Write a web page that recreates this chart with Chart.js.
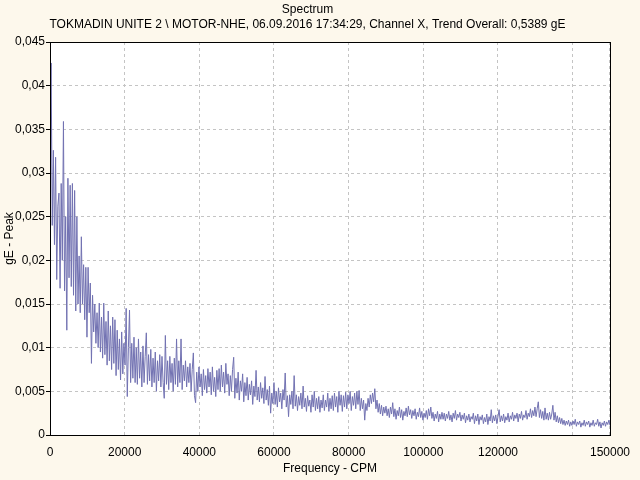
<!DOCTYPE html>
<html>
<head>
<meta charset="utf-8">
<script src="https://cdn.jsdelivr.net/npm/chart.js@4/dist/chart.umd.min.js"></script>
<style>
  body { margin: 0; background: #fdf8ec; }
  #wrap { width: 640px; height: 480px; }
</style>
</head>
<body>
<div id="wrap"><canvas id="spectrum" width="640" height="480"></canvas></div>
<script>
// spectrum lines, one every 300 CPM, amplitudes in gE
const cpmStep = 300;

// 0 - 14700 CPM
const amp000k = [0.0330, 0.0426, 0.0240, 0.0326, 0.0218, 0.0318, 0.0178, 0.0262, 0.0277, 0.0168,
  0.0288, 0.0200, 0.0359, 0.0165, 0.0250, 0.0120, 0.0294, 0.0180, 0.0286, 0.0170,
  0.0288, 0.0160, 0.0280, 0.0142, 0.0250, 0.0150, 0.0205, 0.0140, 0.0227, 0.0150,
  0.0195, 0.0132, 0.0192, 0.0112, 0.0192, 0.0140, 0.0174, 0.0082, 0.0160, 0.0118,
  0.0150, 0.0105, 0.0140, 0.0100, 0.0151, 0.0095, 0.0135, 0.0088, 0.0151, 0.0092];
// 15000 - 29700 CPM
const amp015k = [0.0130, 0.0080, 0.0142, 0.0085, 0.0125, 0.0075, 0.0135, 0.0082, 0.0132, 0.0068,
  0.0120, 0.0075, 0.0110, 0.0063, 0.0118, 0.0070, 0.0105, 0.0080, 0.0145, 0.0044,
  0.0100, 0.0143, 0.0060, 0.0105, 0.0065, 0.0112, 0.0060, 0.0100, 0.0058, 0.0110,
  0.0065, 0.0095, 0.0055, 0.0102, 0.0060, 0.0090, 0.0117, 0.0058, 0.0092, 0.0062,
  0.0098, 0.0055, 0.0088, 0.0060, 0.0095, 0.0050, 0.0085, 0.0062, 0.0092, 0.0055];
// 30000 - 44700 CPM
const amp030k = [0.0090, 0.0060, 0.0042, 0.0114, 0.0058, 0.0085, 0.0052, 0.0090, 0.0060, 0.0082,
  0.0050, 0.0088, 0.0058, 0.0110, 0.0055, 0.0085, 0.0060, 0.0110, 0.0052, 0.0080,
  0.0062, 0.0085, 0.0055, 0.0078, 0.0060, 0.0082, 0.0050, 0.0075, 0.0094, 0.0045,
  0.0037, 0.0072, 0.0050, 0.0078, 0.0055, 0.0070, 0.0045, 0.0075, 0.0052, 0.0068,
  0.0048, 0.0076, 0.0055, 0.0072, 0.0046, 0.0078, 0.0050, 0.0066, 0.0044, 0.0074];
// 45000 - 59700 CPM
const amp045k = [0.0052, 0.0076, 0.0050, 0.0080, 0.0055, 0.0072, 0.0048, 0.0082, 0.0058, 0.0070,
  0.0045, 0.0068, 0.0050, 0.0075, 0.0089, 0.0042, 0.0065, 0.0048, 0.0072, 0.0040,
  0.0062, 0.0050, 0.0070, 0.0038, 0.0060, 0.0045, 0.0066, 0.0040, 0.0058, 0.0046,
  0.0062, 0.0035, 0.0056, 0.0044, 0.0074, 0.0040, 0.0055, 0.0038, 0.0060, 0.0042,
  0.0054, 0.0036, 0.0067, 0.0040, 0.0052, 0.0034, 0.0056, 0.0025, 0.0048, 0.0036];
// 60000 - 74700 CPM
const amp060k = [0.0060, 0.0035, 0.0050, 0.0032, 0.0054, 0.0038, 0.0048, 0.0030, 0.0052, 0.0040,
  0.0071, 0.0032, 0.0045, 0.0021, 0.0046, 0.0035, 0.0050, 0.0030, 0.0068, 0.0033,
  0.0046, 0.0028, 0.0044, 0.0034, 0.0048, 0.0030, 0.0056, 0.0032, 0.0042, 0.0027,
  0.0045, 0.0033, 0.0040, 0.0026, 0.0046, 0.0032, 0.0050, 0.0028, 0.0042, 0.0030,
  0.0044, 0.0026, 0.0040, 0.0031, 0.0046, 0.0028, 0.0040, 0.0032, 0.0048, 0.0027];
// 75000 - 89700 CPM
const amp075k = [0.0042, 0.0030, 0.0045, 0.0028, 0.0048, 0.0032, 0.0044, 0.0026, 0.0050, 0.0034,
  0.0046, 0.0027, 0.0045, 0.0032, 0.0049, 0.0030, 0.0046, 0.0036, 0.0050, 0.0028,
  0.0044, 0.0034, 0.0048, 0.0030, 0.0050, 0.0035, 0.0051, 0.0028, 0.0042, 0.0030,
  0.0040, 0.0017, 0.0036, 0.0028, 0.0042, 0.0032, 0.0046, 0.0036, 0.0048, 0.0038,
  0.0053, 0.0030, 0.0040, 0.0026, 0.0036, 0.0024, 0.0034, 0.0022, 0.0032, 0.0025];
// 90000 - 104700 CPM
const amp090k = [0.0033, 0.0022, 0.0030, 0.0020, 0.0032, 0.0024, 0.0037, 0.0021, 0.0030, 0.0018,
  0.0028, 0.0022, 0.0032, 0.0020, 0.0029, 0.0017, 0.0027, 0.0022, 0.0031, 0.0021,
  0.0033, 0.0023, 0.0029, 0.0019, 0.0028, 0.0022, 0.0030, 0.0018, 0.0026, 0.0021,
  0.0031, 0.0020, 0.0027, 0.0017, 0.0025, 0.0020, 0.0028, 0.0018, 0.0030, 0.0022,
  0.0032, 0.0019, 0.0026, 0.0016, 0.0024, 0.0019, 0.0027, 0.0015, 0.0024, 0.0018];
// 105000 - 119700 CPM
const amp105k = [0.0026, 0.0018, 0.0025, 0.0016, 0.0024, 0.0019, 0.0027, 0.0017, 0.0023, 0.0015,
  0.0025, 0.0019, 0.0028, 0.0017, 0.0024, 0.0020, 0.0026, 0.0016, 0.0023, 0.0018,
  0.0025, 0.0014, 0.0022, 0.0017, 0.0024, 0.0015, 0.0021, 0.0018, 0.0025, 0.0013,
  0.0022, 0.0016, 0.0024, 0.0012, 0.0021, 0.0017, 0.0023, 0.0013, 0.0020, 0.0015,
  0.0024, 0.0012, 0.0021, 0.0016, 0.0029, 0.0014, 0.0022, 0.0016, 0.0023, 0.0013];
// 120000 - 134700 CPM
const amp120k = [0.0021, 0.0029, 0.0015, 0.0022, 0.0016, 0.0024, 0.0014, 0.0021, 0.0017, 0.0025,
  0.0015, 0.0022, 0.0018, 0.0026, 0.0016, 0.0023, 0.0019, 0.0025, 0.0015, 0.0024,
  0.0019, 0.0027, 0.0017, 0.0023, 0.0020, 0.0028, 0.0018, 0.0025, 0.0021, 0.0030,
  0.0020, 0.0028, 0.0022, 0.0032, 0.0021, 0.0030, 0.0038, 0.0020, 0.0029, 0.0019,
  0.0027, 0.0017, 0.0031, 0.0018, 0.0025, 0.0017, 0.0026, 0.0018, 0.0024, 0.0034];
// 135000 - 150000 CPM
const amp135k = [0.0017, 0.0026, 0.0015, 0.0022, 0.0014, 0.0020, 0.0013, 0.0019, 0.0012, 0.0017,
  0.0011, 0.0016, 0.0012, 0.0017, 0.0010, 0.0015, 0.0011, 0.0016, 0.0012, 0.0018,
  0.0010, 0.0015, 0.0012, 0.0016, 0.0009, 0.0014, 0.0011, 0.0017, 0.0010, 0.0015,
  0.0012, 0.0016, 0.0009, 0.0014, 0.0011, 0.0017, 0.0010, 0.0014, 0.0012, 0.0018,
  0.0010, 0.0015, 0.0008, 0.0014, 0.0011, 0.0016, 0.0010, 0.0015, 0.0012, 0.0017, 0.0011];

const xTickValues = [0, 20000, 40000, 60000, 80000, 100000, 120000, 140000, 150000];
const xTickLabels = ["0", "20000", "40000", "60000", "80000", "100000", "120000", "", "150000"];
const yTickValues = [0, 0.005, 0.01, 0.015, 0.02, 0.025, 0.03, 0.035, 0.04, 0.045];
const yTickLabels = ["0", "0,005", "0,01", "0,015", "0,02", "0,025", "0,03", "0,035", "0,04", "0,045"];

const amplitudes = [].concat(amp000k, amp015k, amp030k, amp045k, amp060k,
  amp075k, amp090k, amp105k, amp120k, amp135k);
const points = amplitudes.map((v, i) => ({ x: i * cpmStep, y: v }));

// cream page, white plot area, black frame
const plotFrame = {
  id: "plotFrame",
  beforeDraw(chart) {
    const { ctx, chartArea: a } = chart;
    ctx.save();
    ctx.fillStyle = "#fdf8ec";
    ctx.fillRect(0, 0, chart.width, chart.height);
    ctx.fillStyle = "#ffffff";
    ctx.fillRect(a.left, a.top, a.right - a.left, a.bottom - a.top);
    ctx.restore();
  },
  afterDraw(chart) {
    const { ctx, chartArea: a } = chart;
    ctx.save();
    ctx.strokeStyle = "#000";
    ctx.lineWidth = 1;
    ctx.strokeRect(Math.round(a.left) + 0.5, Math.round(a.top) + 0.5,
      Math.round(a.right - a.left), Math.round(a.bottom - a.top));
    ctx.restore();
  }
};

Chart.defaults.font.family = '"Liberation Sans", Arial, sans-serif';
Chart.defaults.font.size = 12;
Chart.defaults.color = "#000";

new Chart(document.getElementById("spectrum"), {
  type: "line",
  data: {
    datasets: [{
      data: points,
      borderColor: "#7272b2",
      borderWidth: 1,
      pointRadius: 0,
      fill: false,
      tension: 0
    }]
  },
  options: {
    responsive: false,
    animation: false,
    layout: { padding: { left: 0, right: 25, top: 0, bottom: 0 } },
    plugins: {
      legend: { display: false },
      tooltip: { enabled: false },
      title: {
        display: true,
        text: "Spectrum",
        font: { size: 12, weight: "normal" },
        padding: { top: 2, bottom: 0 }
      },
      subtitle: {
        display: true,
        text: "TOKMADIN UNITE 2 \\ MOTOR-NHE, 06.09.2016 17:34:29, Channel X, Trend Overall: 0,5389 gE",
        color: "#000",
        font: { size: 12 },
        padding: { top: 1.4, bottom: 9.8 }
      }
    },
    scales: {
      x: {
        type: "linear",
        min: 0,
        max: 150000,
        afterBuildTicks: (s) => { s.ticks = xTickValues.map((v) => ({ value: v })); },
        afterFit: (s) => { s.height = 45; },
        ticks: {
          autoSkip: false,
          maxRotation: 0,
          padding: 10,
          callback: (v, i) => xTickLabels[i]
        },
        grid: { color: "#c4c4c4", drawTicks: false },
        border: { color: "#000", dash: [3, 3] },
        title: { display: true, text: "Frequency - CPM", padding: { top: 0, bottom: 4 } }
      },
      y: {
        min: 0,
        max: 0.045,
        afterBuildTicks: (s) => { s.ticks = yTickValues.map((v) => ({ value: v })); },
        afterFit: (s) => { s.width = 50; },
        ticks: {
          padding: 1,
          callback: (v, i) => yTickLabels[i]
        },
        grid: { color: "#c4c4c4", tickColor: "#000", tickLength: 4 },
        border: { color: "#000", dash: [3, 3] },
        title: { display: true, text: "gE - Peak", padding: { top: 2, bottom: 0 } }
      }
    }
  },
  plugins: [plotFrame]
});
</script>
</body>
</html>
